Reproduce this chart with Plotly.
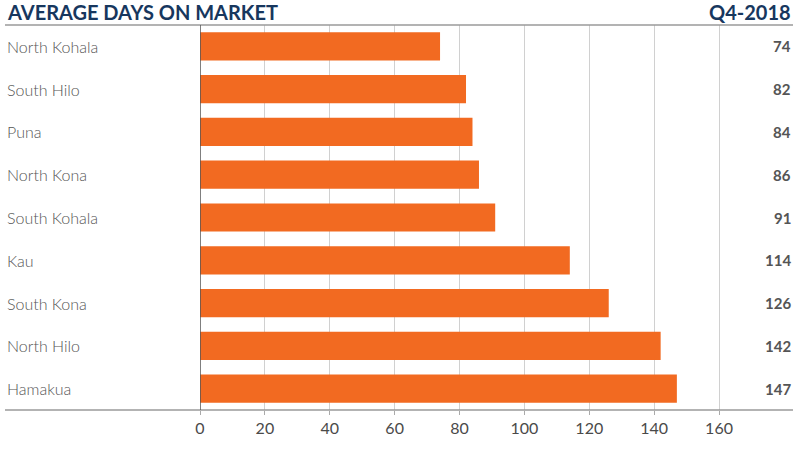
import plotly.graph_objects as go

categories = ["North Kohala", "South Hilo", "Puna", "North Kona", "South Kohala",
              "Kau", "South Kona", "North Hilo", "Hamakua"]
days = [74, 82, 84, 86, 91, 114, 126, 142, 147]
tick_vals = [0, 20, 40, 60, 80, 100, 120, 140, 160]
title_text = "AVERAGE DAYS ON MARKET"
period_text = "Q4-2018"

BAR = "#f26a21"
NAVY = "#17375e"
GRAY = "#555555"

fig = go.Figure(go.Bar(
    x=days, y=categories, orientation="h",
    marker=dict(color=BAR, line=dict(width=0)),
    width=0.66, hoverinfo="skip",
))

L, R, T, B = 200, 7, 25, 42
W, H = 800, 452
x0_paper = -(L - 5) / (W - L - R)

annotations = [
    dict(text=f"<b>{title_text}</b>", x=x0_paper, xref="paper", y=1, yref="paper",
         xanchor="left", yanchor="middle", yshift=13, showarrow=False,
         font=dict(family="Lato", size=20, color=NAVY)),
    dict(text=f"<b>{period_text}</b>", x=1, xref="paper", y=1, yref="paper",
         xanchor="right", yanchor="middle", yshift=13, showarrow=False,
         font=dict(family="Lato", size=20, color=NAVY)),
]
for c, v in zip(categories, days):
    annotations.append(dict(text=c, x=x0_paper, xref="paper", y=c, yref="y",
                            xanchor="left", yanchor="middle", showarrow=False,
                            font=dict(family="Lato", size=16, color=GRAY, weight=300)))
    annotations.append(dict(text=f"<b>{v}</b>", x=1, xref="paper", y=c, yref="y",
                            xanchor="right", yanchor="middle", showarrow=False,
                            font=dict(family="Lato", size=15, color=GRAY)))

shapes = [
    dict(type="line", xref="paper", yref="paper", x0=x0_paper, x1=1, y0=1, y1=1,
         line=dict(color="#9a9a9a", width=1.5)),
    dict(type="line", xref="paper", yref="paper", x0=x0_paper, x1=1, y0=0, y1=0,
         line=dict(color="#9a9a9a", width=1.5)),
    dict(type="line", xref="x", yref="paper", x0=0, x1=0, y0=0, y1=1,
         line=dict(color="#555555", width=1.5)),
]

fig.update_layout(
    width=W, height=H, margin=dict(l=L, r=R, t=T, b=B),
    plot_bgcolor="white", paper_bgcolor="white",
    showlegend=False,
    annotations=annotations, shapes=shapes,
    xaxis=dict(range=[0, 182.8], tickvals=tick_vals, showgrid=True,
               gridcolor="#d0d0d0", gridwidth=1, zeroline=False,
               ticks="outside", ticklen=4, tickcolor="#aaaaaa",
               tickfont=dict(family="Lato", size=16, color="#4a4a4a"),
               showline=False, fixedrange=True),
    yaxis=dict(categoryorder="array", categoryarray=categories[::-1],
               range=[-0.5, 8.5], showticklabels=False, showgrid=False,
               zeroline=False, fixedrange=True),
)

fig.write_html("out.html", config={"displayModeBar": False},
               post_script="document.body.style.margin='0';document.body.style.overflow='hidden';")
